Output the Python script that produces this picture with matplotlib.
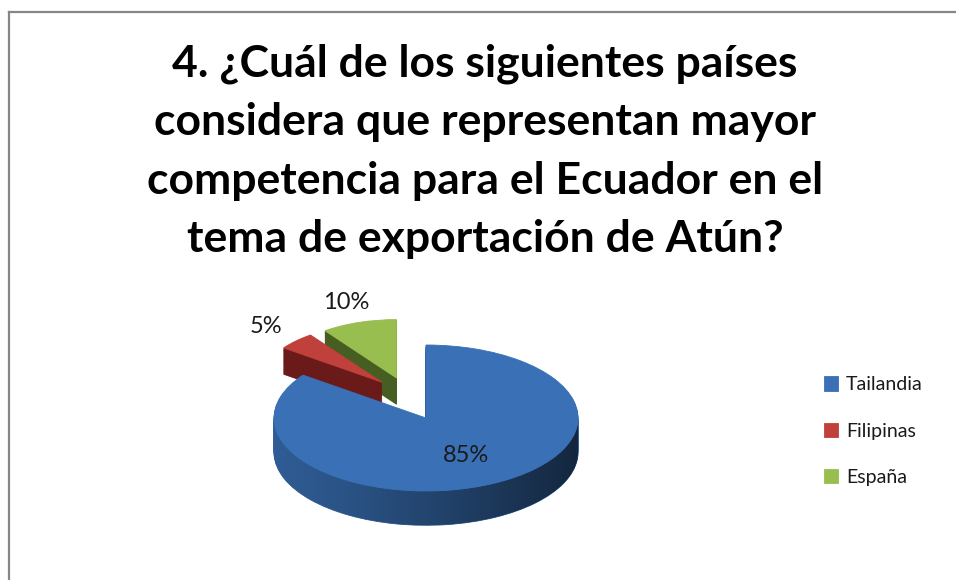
import numpy as np
import matplotlib.pyplot as plt
from matplotlib.lines import Line2D
from matplotlib.patches import Polygon

plt.rcParams['font.family'] = ['Lato', 'DejaVu Sans']

# data
paises = ['Tailandia', 'Filipinas', 'España']
porcentajes = [85, 5, 10]
explode = [0.0, 0.24, 0.24]
titulo = ['4. ¿Cuál de los siguientes países',
          'considera que representan mayor',
          'competencia para el Ecuador en el',
          'tema de exportación de Atún?']

top_colors = ['#3A71B6', '#C0403C', '#98BE50']
side_colors = ['#2F5C94', '#6A1A18', '#465E22']

W, H = 956, 580
fig = plt.figure(figsize=(W / 100, H / 100), dpi=100)

# pie centre at pixel (426, 418); 152 px per unit in x, 73 px per unit in y
cx, cy = 426, 418
ax = fig.add_axes([(cx - 304) / W, (H - cy - 146) / H, 608 / W, 292 / H])

# fake 3d: exploded slices sit further back (smaller, shifted), front slice full size
groups = [
    dict(show=[False, True, True], center=(-0.12, 0.32), radius=0.8, depth=0.36),
    dict(show=[True, False, False], center=(0.0, 0.0), radius=1.0, depth=0.47),
]
n_layers = 30
top_wedges = {}
for gi, g in enumerate(groups):
    x0, y0 = g['center']
    for t in np.linspace(g['depth'], 0, n_layers):
        base = side_colors if t > 0 else top_colors
        cols = [c if s else 'none' for c, s in zip(base, g['show'])]
        z = 2 * gi + (1 if t == 0 else 0.5)
        ws, _ = ax.pie(porcentajes, explode=explode, colors=cols,
                       center=(x0, y0 - t), startangle=90, counterclock=False,
                       radius=g['radius'], wedgeprops=dict(linewidth=0.6))
        for w, s in zip(ws, g['show']):
            w.set_zorder(z)
            if s:
                w.set_edgecolor(w.get_facecolor())
            else:
                w.set_visible(False)
        if t == 0:
            for i, (w, s) in enumerate(zip(ws, g['show'])):
                if s:
                    top_wedges[i] = w

# shading on the front side of the big slice
d = groups[1]['depth']
th = np.linspace(np.pi, 2 * np.pi, 200)
band = np.concatenate([np.c_[np.cos(th), np.sin(th)],
                       np.c_[np.cos(th[::-1]), np.sin(th[::-1]) - d]])
clip = Polygon(band, closed=True, transform=ax.transData, facecolor='none',
               edgecolor='none')
ax.add_patch(clip)
gx = np.linspace(0, 1, 256)
shade = np.zeros((1, 256, 4))
shade[0, :, 3] = 0.58 * gx ** 1.2
im = ax.imshow(shade, extent=[-1, 1, -1 - d, 0], aspect='auto', zorder=2.7,
               interpolation='bilinear')
im.set_clip_path(clip)

ax.set_aspect('auto')
ax.set_xlim(-2, 2)
ax.set_ylim(-2, 2)
ax.axis('off')

# percent labels
fracs = np.array(porcentajes) / sum(porcentajes)
start = np.concatenate([[0], np.cumsum(fracs)[:-1]])
mid = np.deg2rad(90 - 360 * (start + fracs / 2))
label_dist = [0.58, 1.08, 1.08]
for i, (v, m, e, dist) in enumerate(zip(porcentajes, mid, explode, label_dist)):
    g = groups[0] if i > 0 else groups[1]
    x0, y0 = g['center']
    ax.text(x0 + (e + dist) * np.cos(m), y0 + (e + dist) * np.sin(m), f'{v}%',
            ha='center', va='center', fontsize=17, color='#1a1a1a', zorder=10)

# title
for i, line in enumerate(titulo):
    fig.text(485 / W, 1 - (77 + 58.3 * i) / H, line, ha='center', va='baseline',
             fontsize=32, fontweight='bold', color='black')

# legend
handles = [top_wedges[i] for i in range(len(paises))]
fig.legend(handles, paises, loc='center left',
           bbox_to_anchor=(806 / W, 1 - 431 / H), frameon=False,
           fontsize=14, handlelength=0.75, handleheight=0.75,
           handletextpad=0.4, labelspacing=1.5, labelcolor='#1a1a1a')

# chart frame (top and left edges visible)
fig.add_artist(Line2D([8.5 / W, 1], [1 - 12 / H, 1 - 12 / H],
                      transform=fig.transFigure, color='#868686', linewidth=1.6))
fig.add_artist(Line2D([8.5 / W, 8.5 / W], [0, 1 - 12 / H],
                      transform=fig.transFigure, color='#868686', linewidth=1.6))

fig.savefig('out.png', dpi=100)
